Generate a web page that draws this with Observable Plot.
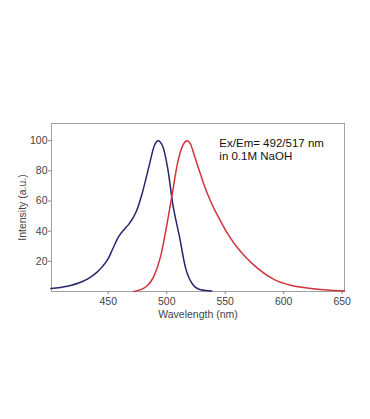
<!DOCTYPE html>
<html>
<head>
<meta charset="utf-8">
<script src="https://cdn.jsdelivr.net/npm/d3@7"></script>
<script src="https://cdn.jsdelivr.net/npm/@observablehq/plot@0.6"></script>
<style>
  html, body { margin: 0; padding: 0; background: #fff; }
  #chart svg { display: block; }
</style>
</head>
<body>
<div id="chart"></div>
<script>
// Excitation spectrum (blue)
const excWavelength = [401, 415, 427, 435, 440, 445, 450, 454, 459, 464, 468, 474, 479, 485, 489.4, 492.5, 496.5, 501, 505, 511, 516, 522, 529, 538.5];
const excIntensity  = [2, 3.5, 6.3, 9.6, 12.5, 16.5, 21.8, 28.5, 36.5, 41.5, 45, 53, 65, 83.5, 96.7, 100, 96.5, 81, 59, 36, 16, 5, 1.2, 0.4];
// Emission spectrum (red)
const emWavelength = [472, 482, 489.4, 495, 501, 505, 509.4, 513.7, 517.3, 520.5, 523.7, 527.4, 532.2, 537.9, 545, 553, 560, 566, 578, 592, 606, 623.5, 640, 652];
const emIntensity  = [0, 3, 10.7, 24, 48, 66, 85.6, 96.7, 100, 97.5, 90, 81.3, 70.2, 59.2, 48.2, 37.2, 29.5, 24, 15.2, 7.9, 4.1, 2, 0.8, 0.3];

const xTicks = [450, 500, 550, 600, 650];
const yTicks = [20, 40, 60, 80, 100];
const noteLines = ["Ex/Em= 492/517 nm", "in 0.1M NaOH"];
const noteAt = {x: 545, y: 102};

const exc = excWavelength.map((w, i) => ({w, v: excIntensity[i]}));
const em = emWavelength.map((w, i) => ({w, v: emIntensity[i]}));

const chart = Plot.plot({
  width: 370,
  height: 419,
  marginLeft: 51,
  marginRight: 26,
  marginTop: 123,
  marginBottom: 128,
  style: {fontFamily: "'Liberation Sans', Arial, sans-serif", fontSize: "10px", color: "#444", background: "#fff"},
  x: {domain: [401.5, 652]},
  y: {domain: [0, 111.4]},
  marks: [
    Plot.frame({stroke: "#a0a0a0"}),
    Plot.axisX({ticks: xTicks, tickSize: 3, tickPadding: 3, stroke: "#888", fill: "#444", fontSize: 10.5,
      label: "Wavelength (nm)", labelAnchor: "center", labelOffset: 26, labelArrow: "none"}),
    Plot.axisY({ticks: yTicks, tickSize: 3, tickPadding: 1, stroke: "#888", fill: "#444", fontSize: 10.5,
      label: "Intensity (a.u.)", labelAnchor: "center", labelOffset: 33, labelArrow: "none"}),
    Plot.line(exc, {x: "w", y: "v", stroke: "#26266f", strokeWidth: 1.5, curve: "monotone-x"}),
    Plot.line(em, {x: "w", y: "v", stroke: "#d0343a", strokeWidth: 1.5, curve: "monotone-x"}),
    Plot.text([noteLines.join("\n")], {x: () => noteAt.x, y: () => noteAt.y, text: d => d,
      textAnchor: "start", lineAnchor: "top", lineHeight: 1.15, fontSize: 11.5, fill: "#111"})
  ]
});
document.getElementById("chart").appendChild(chart);
</script>
</body>
</html>
